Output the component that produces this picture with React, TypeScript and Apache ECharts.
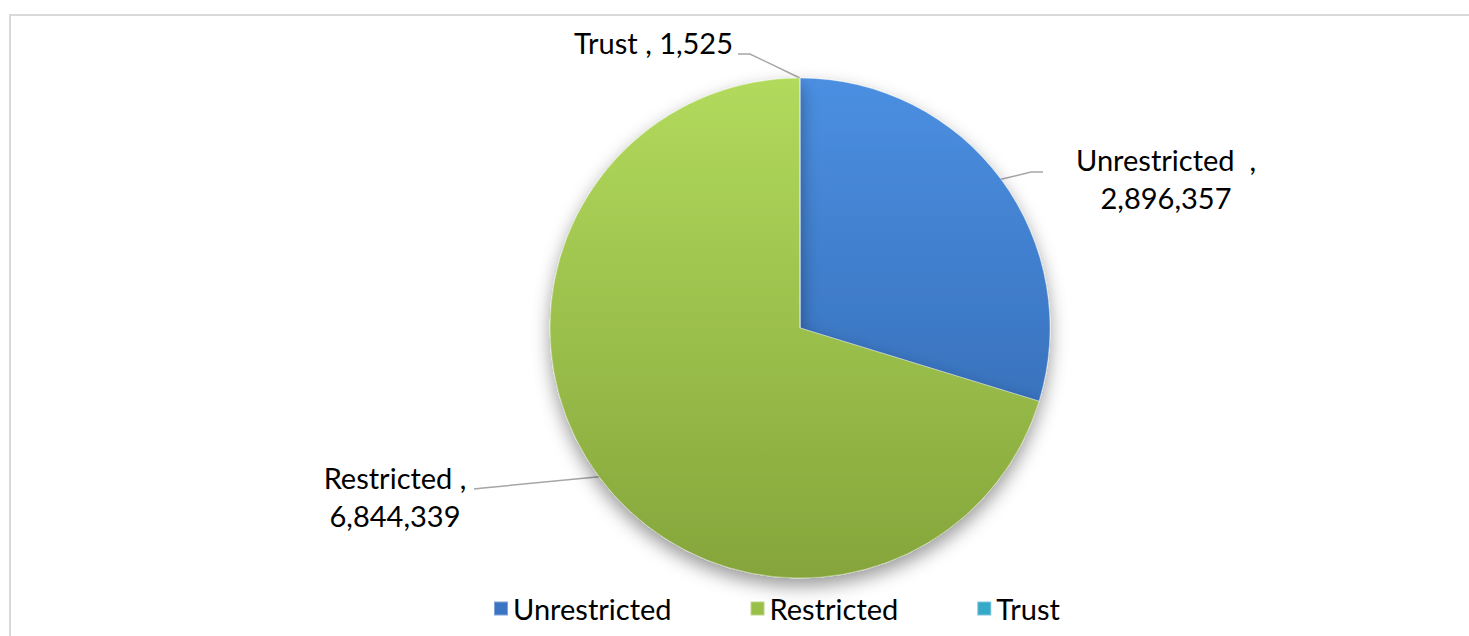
import React, { useEffect, useRef } from "react";
import * as echarts from "echarts";

const categories = ["Unrestricted", "Restricted", "Trust"];
const values = [2896357, 6844339, 1525];
const labelGaps = ["  ", " ", " "];
const labelBreaks = ["\n", "\n", " "];

const FONT = "Lato, 'Open Sans', sans-serif";

const fills = [
  ["#4b8fe1", "#2f63ab"],
  ["#b2da5c", "#85a53b"],
  ["#43c0dc", "#2a8cab"],
];
const legendColors = ["#3a74c2", "#98c048", "#36a8c8"];

// label placement (layout only)
const labelPos = [
  { x: 1166, y: 178, align: "center", bend: [1031, 172], end: [1043, 172] },
  { x: 395, y: 496, align: "center", bend: [483, 488], end: [474, 489] },
  { x: 733, y: 42, align: "right", bend: [750, 54], end: [738, 54] },
];

const fmt = (v: number) => v.toLocaleString("en-US");

export default function App() {
  const ref = useRef<HTMLDivElement>(null);
  useEffect(() => {
    if (!ref.current) return;
    const chart = echarts.init(ref.current, null, { renderer: "svg" });
    const data = categories.map((name, i) => ({
      name,
      value: values[i],
      itemStyle: {
        color: new echarts.graphic.LinearGradient(
          0, 78, 0, 578,
          [
            { offset: 0, color: fills[i][0] },
            { offset: 1, color: fills[i][1] },
          ],
          true
        ),
      },
    }));
    chart.setOption({
      animation: false,
      backgroundColor: "#ffffff",
      graphic: [
        {
          type: "rect",
          shape: { x: 10, y: 15, width: 1500, height: 700 },
          style: { fill: "none", stroke: "#d9d9d9", lineWidth: 2 },
          silent: true,
        },
      ],
      legend: {
        left: 488,
        top: 589,
        icon: "rect",
        itemWidth: 14,
        itemHeight: 14,
        itemGap: 78,
        itemTextGap: 13,
        textStyle: { fontFamily: FONT, fontSize: 29, color: "#000" },
        data: categories.map((name, i) => ({
          name,
          itemStyle: { color: legendColors[i] },
        })),
      },
      series: [
        {
          type: "pie",
          center: [800, 328],
          radius: 250,
          startAngle: 90,
          clockwise: true,
          avoidLabelOverlap: false,
          itemStyle: {
            borderColor: "rgba(255,255,255,0.35)",
            borderWidth: 1,
            shadowBlur: 18,
            shadowOffsetY: 8,
            shadowColor: "rgba(0,0,0,0.4)",
          },
          label: {
            show: true,
            position: "outside",
            fontFamily: FONT,
            fontSize: 29,
            lineHeight: 38,
            color: "#000",
            formatter: (p: any) =>
              `${p.name}${labelGaps[p.dataIndex]},${labelBreaks[p.dataIndex]}${fmt(p.value)}`,
          },
          labelLine: {
            show: true,
            lineStyle: { color: "#a6a6a6", width: 1.5 },
          },
          labelLayout: (params: any) => {
            const lp = labelPos[params.dataIndex];
            const start = params.labelLinePoints
              ? params.labelLinePoints[0]
              : lp.bend;
            return {
              x: lp.x,
              y: lp.y,
              align: lp.align,
              verticalAlign: "middle",
              labelLinePoints: [start, lp.bend, lp.end],
            };
          },
          emphasis: { disabled: true },
          data,
        },
      ],
    });
    return () => chart.dispose();
  }, []);
  return (
    <div
      ref={ref}
      style={{ position: "fixed", left: 0, top: 0, width: 1469, height: 636 }}
    />
  );
}
